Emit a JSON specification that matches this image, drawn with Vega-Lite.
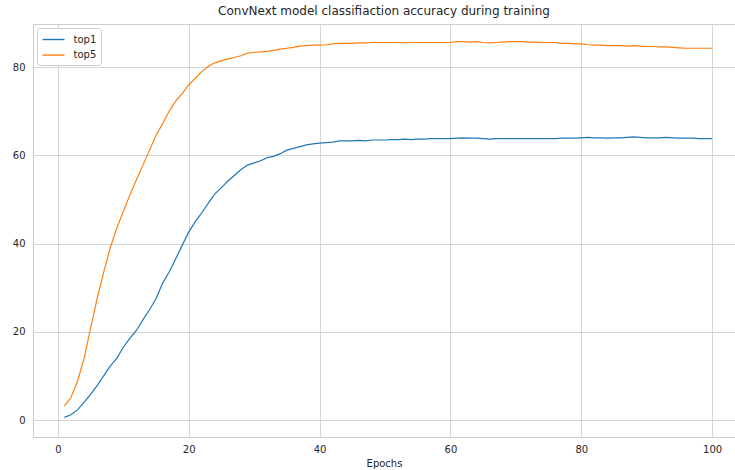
{
  "$schema": "https://vega.github.io/schema/vega-lite/v6.json",
  "autosize": {"type": "none"},
  "padding": {"left": 33, "top": 24, "right": 0, "bottom": 33},
  "width": 702,
  "height": 413,
  "background": "white",
  "title": {"text": "ConvNext model classifiaction accuracy during training", "font": "DejaVu Sans", "fontSize": 12, "fontWeight": "normal", "color": "#262626", "offset": 6},
  "config": {
    "view": {"stroke": "#cccccc", "strokeWidth": 1},
    "font": "DejaVu Sans"
  },
  "data": {"values": [
    {"epoch":1,"top1":0.6,"top5":3.2},{"epoch":2,"top1":1.2,"top5":5.1},{"epoch":3,"top1":2.3,"top5":8.8},{"epoch":4,"top1":4.0,"top5":13.9},{"epoch":5,"top1":5.8,"top5":20.8},
    {"epoch":6,"top1":7.8,"top5":27.5},{"epoch":7,"top1":10.0,"top5":33.5},{"epoch":8,"top1":12.2,"top5":39.0},{"epoch":9,"top1":14.0,"top5":43.5},{"epoch":10,"top1":16.5,"top5":47.3},
    {"epoch":11,"top1":18.5,"top5":51.0},{"epoch":12,"top1":20.3,"top5":54.5},{"epoch":13,"top1":22.7,"top5":57.8},{"epoch":14,"top1":25.0,"top5":61.2},{"epoch":15,"top1":27.5,"top5":64.5},
    {"epoch":16,"top1":31.0,"top5":67.2},{"epoch":17,"top1":33.5,"top5":70.0},{"epoch":18,"top1":36.5,"top5":72.3},{"epoch":19,"top1":39.6,"top5":74.0},{"epoch":20,"top1":42.6,"top5":76.0},
    {"epoch":21,"top1":45.0,"top5":77.5},{"epoch":22,"top1":47.0,"top5":79.0},{"epoch":23,"top1":49.2,"top5":80.2},{"epoch":24,"top1":51.3,"top5":81.0},{"epoch":25,"top1":52.7,"top5":81.5},
    {"epoch":26,"top1":54.2,"top5":81.9},{"epoch":27,"top1":55.5,"top5":82.2},{"epoch":28,"top1":56.8,"top5":82.6},{"epoch":29,"top1":57.8,"top5":83.2},{"epoch":30,"top1":58.3,"top5":83.4},
    {"epoch":31,"top1":58.8,"top5":83.5},{"epoch":32,"top1":59.5,"top5":83.6},{"epoch":33,"top1":59.8,"top5":83.8},{"epoch":34,"top1":60.4,"top5":84.1},{"epoch":35,"top1":61.2,"top5":84.3},
    {"epoch":36,"top1":61.6,"top5":84.5},{"epoch":37,"top1":62.0,"top5":84.8},{"epoch":38,"top1":62.4,"top5":84.9},{"epoch":39,"top1":62.6,"top5":85.0},{"epoch":40,"top1":62.8,"top5":85.0},
    {"epoch":41,"top1":62.9,"top5":85.1},{"epoch":42,"top1":63.0,"top5":85.3},{"epoch":43,"top1":63.3,"top5":85.4},{"epoch":44,"top1":63.3,"top5":85.4},{"epoch":45,"top1":63.3,"top5":85.4},
    {"epoch":46,"top1":63.4,"top5":85.5},{"epoch":47,"top1":63.3,"top5":85.5},{"epoch":48,"top1":63.5,"top5":85.6},{"epoch":49,"top1":63.5,"top5":85.6},{"epoch":50,"top1":63.5,"top5":85.6},
    {"epoch":51,"top1":63.6,"top5":85.6},{"epoch":52,"top1":63.6,"top5":85.6},{"epoch":53,"top1":63.7,"top5":85.5},{"epoch":54,"top1":63.6,"top5":85.6},{"epoch":55,"top1":63.7,"top5":85.6},
    {"epoch":56,"top1":63.7,"top5":85.6},{"epoch":57,"top1":63.8,"top5":85.6},{"epoch":58,"top1":63.8,"top5":85.6},{"epoch":59,"top1":63.8,"top5":85.6},{"epoch":60,"top1":63.8,"top5":85.6},
    {"epoch":61,"top1":63.9,"top5":85.8},{"epoch":62,"top1":64.0,"top5":85.8},{"epoch":63,"top1":63.9,"top5":85.7},{"epoch":64,"top1":63.9,"top5":85.8},{"epoch":65,"top1":63.8,"top5":85.6},
    {"epoch":66,"top1":63.7,"top5":85.5},{"epoch":67,"top1":63.8,"top5":85.6},{"epoch":68,"top1":63.8,"top5":85.7},{"epoch":69,"top1":63.8,"top5":85.8},{"epoch":70,"top1":63.8,"top5":85.8},
    {"epoch":71,"top1":63.8,"top5":85.8},{"epoch":72,"top1":63.8,"top5":85.7},{"epoch":73,"top1":63.8,"top5":85.7},{"epoch":74,"top1":63.8,"top5":85.6},{"epoch":75,"top1":63.8,"top5":85.6},
    {"epoch":76,"top1":63.8,"top5":85.6},{"epoch":77,"top1":63.9,"top5":85.4},{"epoch":78,"top1":63.9,"top5":85.4},{"epoch":79,"top1":63.9,"top5":85.3},{"epoch":80,"top1":64.0,"top5":85.3},
    {"epoch":81,"top1":64.1,"top5":85.1},{"epoch":82,"top1":64.0,"top5":85.0},{"epoch":83,"top1":64.0,"top5":85.0},{"epoch":84,"top1":63.9,"top5":84.9},{"epoch":85,"top1":64.0,"top5":84.9},
    {"epoch":86,"top1":64.0,"top5":84.9},{"epoch":87,"top1":64.1,"top5":84.8},{"epoch":88,"top1":64.2,"top5":84.9},{"epoch":89,"top1":64.1,"top5":84.8},{"epoch":90,"top1":64.0,"top5":84.7},
    {"epoch":91,"top1":64.0,"top5":84.7},{"epoch":92,"top1":64.0,"top5":84.6},{"epoch":93,"top1":64.1,"top5":84.6},{"epoch":94,"top1":64.0,"top5":84.5},{"epoch":95,"top1":63.9,"top5":84.4},
    {"epoch":96,"top1":63.9,"top5":84.3},{"epoch":97,"top1":63.9,"top5":84.3},{"epoch":98,"top1":63.8,"top5":84.3},{"epoch":99,"top1":63.8,"top5":84.3},{"epoch":100,"top1":63.8,"top5":84.3}
  ]},
  "transform": [{"fold": ["top1", "top5"], "as": ["metric", "accuracy"]}],
  "mark": {"type": "line", "strokeWidth": 1.2, "clip": true},
  "encoding": {
    "x": {
      "field": "epoch", "type": "quantitative",
      "scale": {"domain": [-3.8, 103.5], "nice": false, "zero": false},
      "axis": {"values": [0, 20, 40, 60, 80, 100], "title": "Epochs", "titleFont": "DejaVu Sans", "titleFontSize": 10, "titleFontWeight": "normal", "titleColor": "#262626", "titlePadding": 4,
               "labelFont": "DejaVu Sans", "labelFontSize": 10, "labelColor": "#262626", "labelPadding": 7, "ticks": false, "domain": false,
               "grid": true, "gridColor": "#d6d6d6", "gridWidth": 1}
    },
    "y": {
      "field": "accuracy", "type": "quantitative",
      "scale": {"domain": [-3.85, 89.8], "nice": false, "zero": false},
      "axis": {"values": [0, 20, 40, 60, 80], "title": null,
               "labelFont": "DejaVu Sans", "labelFontSize": 10, "labelColor": "#262626", "labelPadding": 8, "ticks": false, "domain": false,
               "grid": true, "gridColor": "#d6d6d6", "gridWidth": 1}
    },
    "color": {
      "field": "metric", "type": "nominal",
      "scale": {"domain": ["top1", "top5"], "range": ["#1f77b4", "#ff7f0e"]},
      "legend": {"title": null, "orient": "top-left", "offset": 4, "padding": 4.5, "strokeColor": "#cccccc", "fillColor": "#ffffff", "cornerRadius": 3,
                 "symbolType": "M-1.83,0H1.83", "symbolSize": 144, "symbolStrokeWidth": 1.4, "symbolOffset": 5,
                 "labelFont": "DejaVu Sans", "labelFontSize": 10, "labelColor": "#262626", "rowPadding": 3.6, "labelOffset": 13}
    }
  }
}
